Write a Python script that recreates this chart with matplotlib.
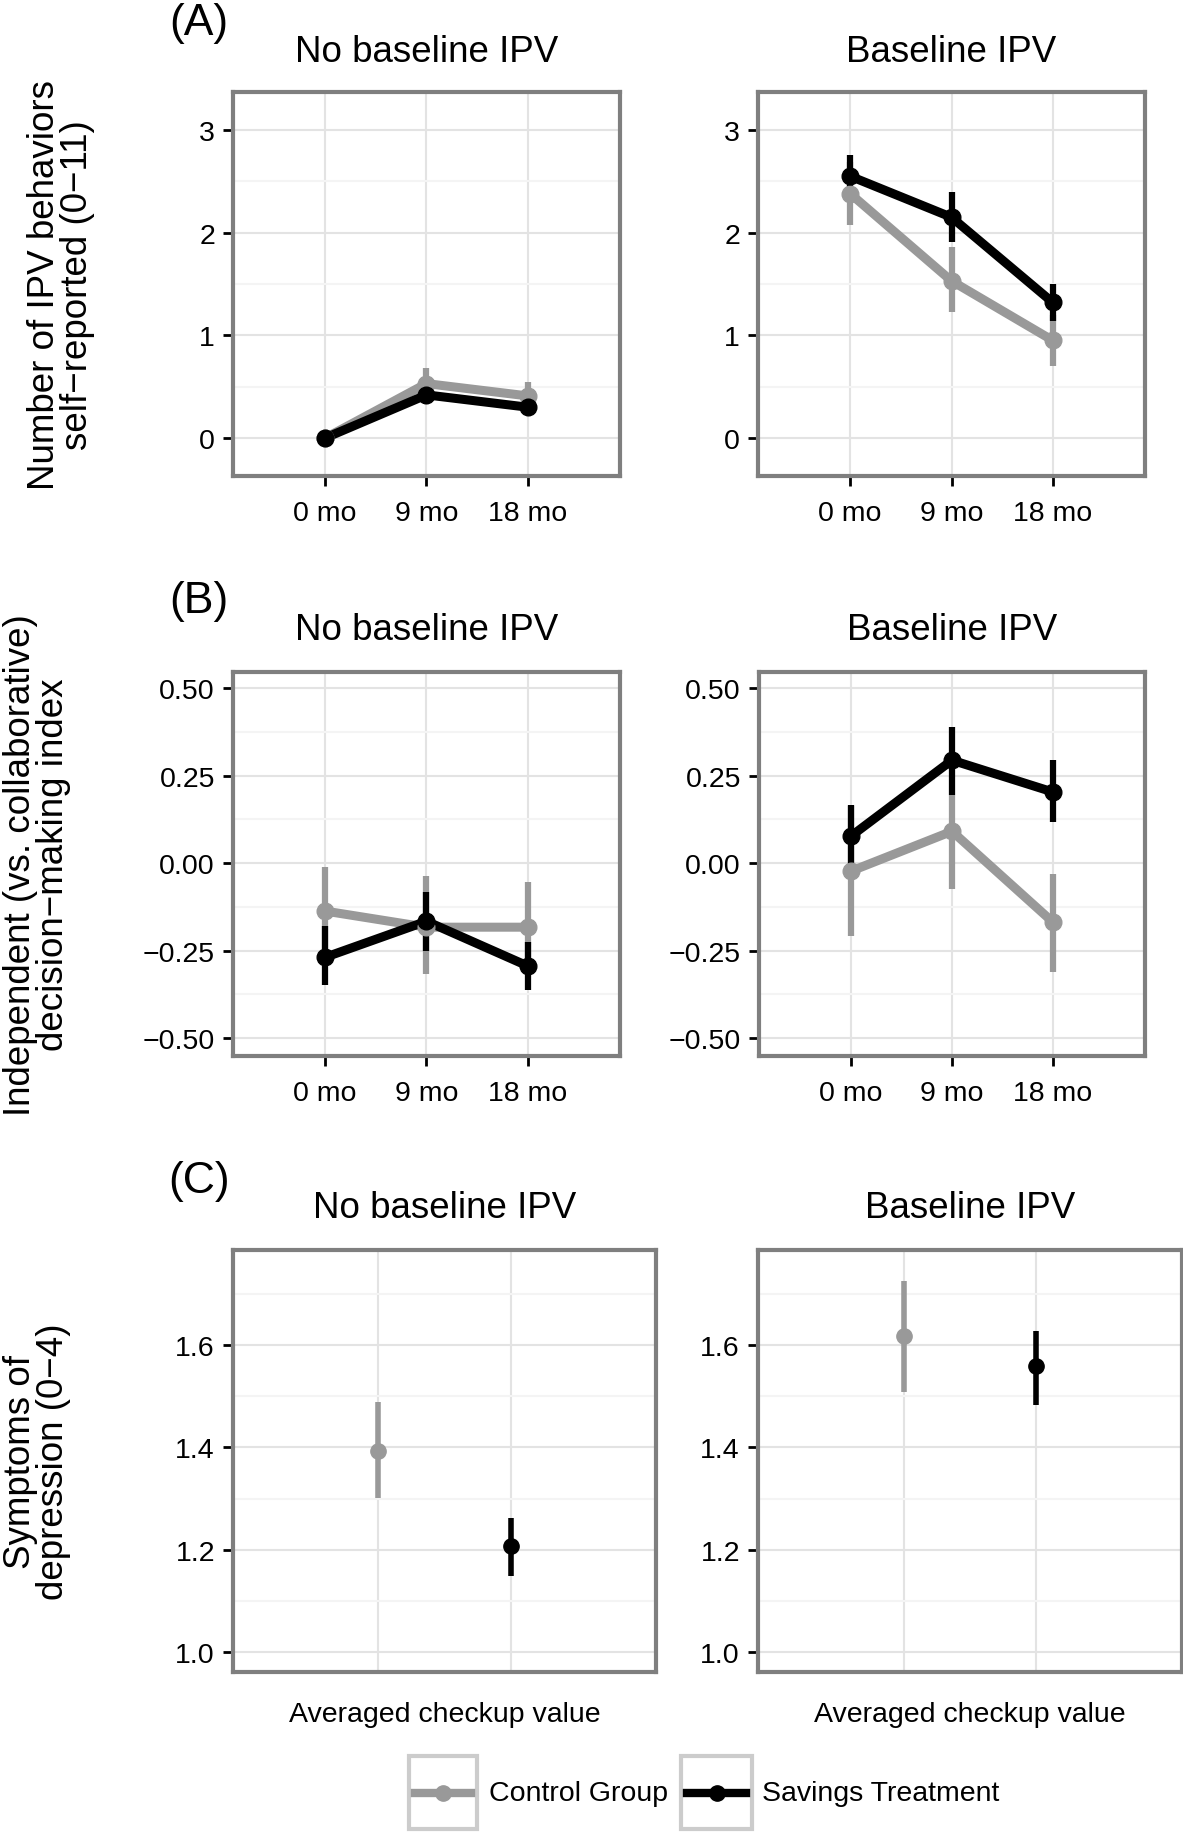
import matplotlib.pyplot as plt
from matplotlib.lines import Line2D
from matplotlib.patches import Rectangle
from matplotlib.ticker import FixedLocator

plt.rcParams['font.family'] = ['Liberation Sans', 'DejaVu Sans']
plt.rcParams['axes.unicode_minus'] = True

months = ["0 mo", "9 mo", "18 mo"]
groups = ["Control Group", "Savings Treatment"]
colors = ["#999999", "#000000"]
facets = ["No baseline IPV", "Baseline IPV"]

# (A) number of IPV behaviors: mean, lower, upper
ipv_no_ctrl = [0.0, 0.53, 0.41]
ipv_no_ctrl_lo = [0.0, 0.38, 0.27]
ipv_no_ctrl_hi = [0.0, 0.68, 0.55]
ipv_no_treat = [0.0, 0.42, 0.30]
ipv_no_treat_lo = [0.0, 0.33, 0.22]
ipv_no_treat_hi = [0.0, 0.51, 0.38]
ipv_yes_ctrl = [2.38, 1.53, 0.95]
ipv_yes_ctrl_lo = [2.07, 1.23, 0.70]
ipv_yes_ctrl_hi = [2.69, 1.86, 1.20]
ipv_yes_treat = [2.55, 2.15, 1.32]
ipv_yes_treat_lo = [2.35, 1.91, 1.14]
ipv_yes_treat_hi = [2.76, 2.40, 1.50]

# (B) independent decision-making index
dm_no_ctrl = [-0.137, -0.183, -0.183]
dm_no_ctrl_lo = [-0.263, -0.317, -0.310]
dm_no_ctrl_hi = [-0.011, -0.037, -0.054]
dm_no_treat = [-0.269, -0.166, -0.294]
dm_no_treat_lo = [-0.349, -0.250, -0.363]
dm_no_treat_hi = [-0.180, -0.083, -0.226]
dm_yes_ctrl = [-0.023, 0.091, -0.169]
dm_yes_ctrl_lo = [-0.209, -0.074, -0.311]
dm_yes_ctrl_hi = [0.163, 0.194, -0.031]
dm_yes_treat = [0.077, 0.294, 0.203]
dm_yes_treat_lo = [-0.010, 0.194, 0.117]
dm_yes_treat_hi = [0.166, 0.389, 0.294]

# (C) depression symptoms, averaged checkup value: [control, treatment]
dep_no = [1.393, 1.207]
dep_no_lo = [1.301, 1.148]
dep_no_hi = [1.489, 1.262]
dep_yes = [1.617, 1.559]
dep_yes_lo = [1.508, 1.483]
dep_yes_hi = [1.725, 1.627]

W, H = 1183, 1833
fig = plt.figure(figsize=(W / 100, H / 100), dpi=100)


def px_axes(x0, y0, x1, y1):
    return fig.add_axes([x0 / W, 1 - y1 / H, (x1 - x0) / W, (y1 - y0) / H])


def style(ax, yticks, yminor, ylim, xlim, xticks, xlabels):
    ax.set_ylim(ylim)
    ax.set_xlim(xlim)
    ax.set_yticks(yticks)
    ax.yaxis.set_minor_locator(FixedLocator(yminor))
    ax.set_xticks(xticks)
    ax.set_xticklabels(xlabels)
    ax.grid(True, which='major', color='#e3e3e3', lw=1.5, zorder=0)
    ax.grid(True, which='minor', axis='y', color='#f4f4f4', lw=1.5, zorder=0)
    ax.set_axisbelow(True)
    for s in ax.spines.values():
        s.set_color('#7f7f7f')
        s.set_linewidth(3)
    ax.tick_params(which='major', length=7, width=2, labelsize=20.5, color='black', pad=6)
    ax.tick_params(axis='x', pad=10)
    ax.tick_params(which='minor', length=0)


def draw_lines(ax, series):
    x = [1, 2, 3]
    for (m, lo, hi), c in zip(series, colors):
        ax.vlines(x, lo, hi, color=c, lw=4.5, zorder=2)
    for (m, lo, hi), c in zip(series, colors):
        ax.plot(x, m, color=c, lw=6.5, zorder=3, solid_capstyle='butt')
    for (m, lo, hi), c in zip(series, colors):
        ax.plot(x, m, 'o', color=c, ms=12, zorder=4)


minus_fmt = lambda vals: [f"{v:.2f}".replace('-', '\u2212') for v in vals]

rowA = [(ipv_no_ctrl, ipv_no_ctrl_lo, ipv_no_ctrl_hi, ipv_no_treat, ipv_no_treat_lo, ipv_no_treat_hi),
        (ipv_yes_ctrl, ipv_yes_ctrl_lo, ipv_yes_ctrl_hi, ipv_yes_treat, ipv_yes_treat_lo, ipv_yes_treat_hi)]
rowB = [(dm_no_ctrl, dm_no_ctrl_lo, dm_no_ctrl_hi, dm_no_treat, dm_no_treat_lo, dm_no_treat_hi),
        (dm_yes_ctrl, dm_yes_ctrl_lo, dm_yes_ctrl_hi, dm_yes_treat, dm_yes_treat_lo, dm_yes_treat_hi)]

for i, d in enumerate(rowA):
    x0, x1 = [(233, 620), (758, 1145)][i]
    ax = px_axes(x0, 93, x1, 477)
    style(ax, [0, 1, 2, 3], [0.5, 1.5, 2.5], (-0.37, 3.37), (0.09, 3.91), [1, 2, 3], months)
    draw_lines(ax, [(d[0], d[1], d[2]), (d[3], d[4], d[5])])
    fig.text((x0 + x1) / 2 / W, 1 - 53 / H, facets[i], ha='center', va='center', fontsize=26.5)

for i, d in enumerate(rowB):
    x0, x1 = [(233, 620), (759, 1145)][i]
    ax = px_axes(x0, 673, x1, 1057)
    yt = [-0.5, -0.25, 0, 0.25, 0.5]
    style(ax, yt, [-0.375, -0.125, 0.125, 0.375], (-0.551, 0.546), (0.09, 3.91), [1, 2, 3], months)
    ax.set_yticklabels(minus_fmt(yt))
    draw_lines(ax, [(d[0], d[1], d[2]), (d[3], d[4], d[5])])
    fig.text((x0 + x1) / 2 / W, 1 - 630 / H, facets[i], ha='center', va='center', fontsize=26.5)

rowC = [(dep_no, dep_no_lo, dep_no_hi), (dep_yes, dep_yes_lo, dep_yes_hi)]
for i, (m, lo, hi) in enumerate(rowC):
    x0, x1 = [(233, 656), (758, 1182)][i]
    ax = px_axes(x0, 1251, x1, 1673)
    yt = [1.0, 1.2, 1.4, 1.6]
    style(ax, yt, [1.1, 1.3, 1.5, 1.7], (0.961, 1.786), (-0.1, 3.1), [1, 2], ["", ""])
    ax.set_yticklabels([f"{v:.1f}" for v in yt])
    ax.tick_params(axis='x', length=0)
    for j in range(2):
        ax.vlines(j + 1, lo[j], hi[j], color=colors[j], lw=4, zorder=2)
        ax.plot(j + 1, m[j], 'o', color=colors[j], ms=11, zorder=4)
    fig.text((x0 + x1) / 2 / W, 1 - 1208 / H, facets[i], ha='center', va='center', fontsize=26.5)
    fig.text((x0 + x1) / 2 / W, 1 - 1715 / H, "Averaged checkup value", ha='center', va='center', fontsize=20.5)

# panel letters
for lab, y in [("(A)", 23), ("(B)", 602), ("(C)", 1181)]:
    fig.text(199 / W, 1 - y / H, lab, ha='center', va='center', fontsize=32)

# y labels
fig.text(61 / W, 1 - 285 / H, "Number of IPV behaviors\nself\u2212reported (0\u221211)", rotation=90,
         ha='center', va='center', fontsize=26.5, multialignment='center', linespacing=0.9)
fig.text(37 / W, 1 - 865 / H, "Independent (vs. collaborative)\ndecision\u2212making index", rotation=90,
         ha='center', va='center', fontsize=26.5, multialignment='center', linespacing=0.9)
fig.text(37 / W, 1 - 1462 / H, "Symptoms of\ndepression (0\u22124)", rotation=90,
         ha='center', va='center', fontsize=26.5, multialignment='center', linespacing=0.9)

# legend
for (bx0, bx1, tx), g, c in zip([(409, 477, 489), (681, 752, 762)], groups, colors):
    fig.add_artist(Rectangle((bx0 / W, 1 - 1830 / H), (bx1 - bx0) / W, 73 / H,
                             transform=fig.transFigure, fill=False, edgecolor='#cccccc', lw=3))
    fig.add_artist(Line2D([(bx0 + 6) / W, (bx1 - 6) / W], [1 - 1794 / H] * 2,
                          transform=fig.transFigure, color=c, lw=6))
    fig.add_artist(Line2D([(bx0 + bx1) / 2 / W], [1 - 1794 / H], marker='o', ms=11,
                          transform=fig.transFigure, color=c))
    fig.text(tx / W, 1 - 1794 / H, g, ha='left', va='center', fontsize=20.5)

fig.savefig("out.png", dpi=100)
